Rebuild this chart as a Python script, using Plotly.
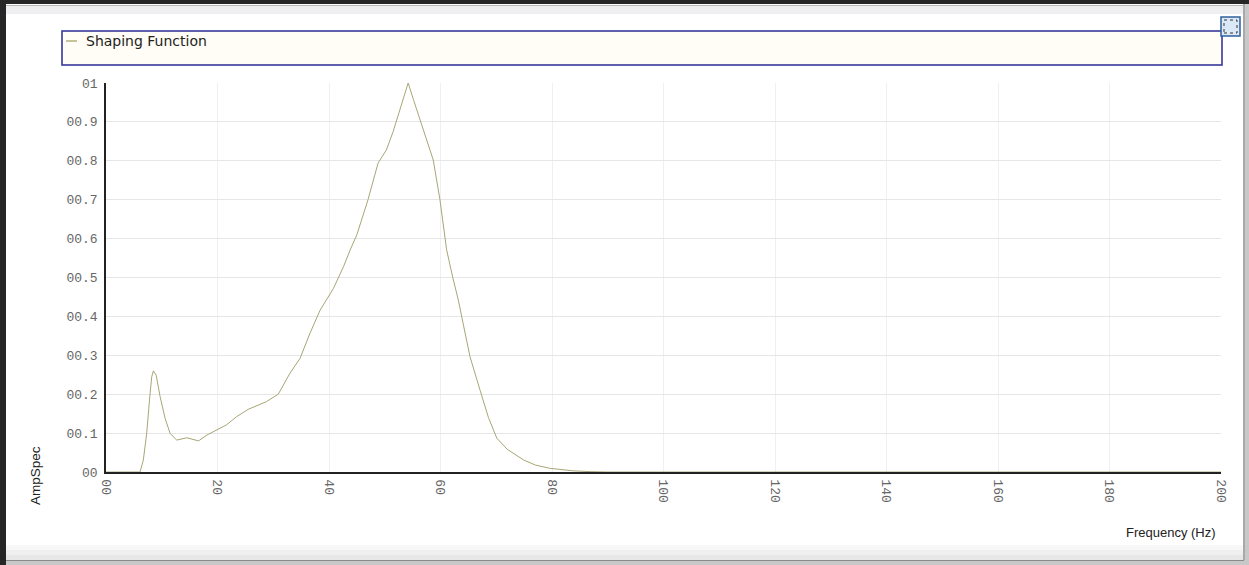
import plotly.graph_objects as go

# ---- data ----
freq_hz = [0, 5.0, 6.1, 6.7, 7.3, 7.8, 8.2, 8.5, 9.0, 9.7, 10.6, 11.5, 12.7, 14.5,
           16.6, 18.1, 19.9, 21.6, 23.4, 25.5, 28.8, 30.9, 33.0, 34.8, 36.6, 38.4,
           40.8, 42.6, 43.8, 45.0, 46.0, 47.0, 48.8, 50.3, 51.5, 52.7, 54.2, 55.2,
           56.3, 57.5, 58.7, 59.9, 61.1, 62.2, 63.2, 64.3, 65.3, 67.1, 68.6, 70.1,
           72.0, 74.9, 77.0, 79.6, 83.8, 86.8, 90.0, 120.0, 160.0, 200.0]
amp_spec = [0, 0, 0.0, 0.031, 0.099, 0.185, 0.245, 0.26, 0.249, 0.194, 0.138, 0.099,
            0.082, 0.088, 0.080, 0.095, 0.108, 0.121, 0.142, 0.161, 0.181, 0.20, 0.254,
            0.292, 0.357, 0.416, 0.472, 0.528, 0.571, 0.61, 0.655, 0.70, 0.794, 0.828,
            0.875, 0.93, 1.0, 0.955, 0.905, 0.855, 0.802, 0.70, 0.571, 0.50, 0.442,
            0.365, 0.296, 0.21, 0.14, 0.087, 0.058, 0.031, 0.018, 0.0095, 0.003,
            0.001, 0.0, 0.0, 0.0, 0.0]
series_name = "Shaping Function"
y_tick_vals = [0, 0.1, 0.2, 0.3, 0.4, 0.5, 0.6, 0.7, 0.8, 0.9, 1.0]
y_tick_text = ["00", "00.1", "00.2", "00.3", "00.4", "00.5", "00.6", "00.7", "00.8", "00.9", "01"]
x_tick_vals = [0, 20, 40, 60, 80, 100, 120, 140, 160, 180, 200]
x_tick_text = ["00", "20", "40", "60", "80", "100", "120", "140", "160", "180", "200"]

W, H = 1249, 565
L, R, T, B = 106, 1221, 83, 472  # plot area in pixels


def px(x):
    return (x - L) / (R - L)


def py(y):
    return (B - y) / (B - T)


line_color = "#a8a676"

fig = go.Figure()
fig.add_trace(go.Scatter(x=freq_hz, y=amp_spec, mode="lines", name=series_name,
                         line=dict(color=line_color, width=1), showlegend=False))

shapes = []
shapes.append(dict(type="rect", xref="paper", yref="paper", layer="below",
                   x0=px(0), x1=px(W), y0=py(H), y1=py(0),
                   fillcolor="#ffffff", line=dict(width=0)))
for i, c in enumerate(["#f7f7f7", "#efefef", "#e7e7e7"]):
    shapes.append(dict(type="rect", xref="paper", yref="paper", layer="below",
                       x0=px(6), x1=px(1243), y0=py(560), y1=py(545 + i * 5),
                       fillcolor=c, line=dict(width=0)))
shapes.append(dict(type="rect", xref="paper", yref="paper", layer="below",
                   x0=px(6), x1=px(1243), y0=py(14), y1=py(5),
                   fillcolor="#efeff2", line=dict(width=0)))
shapes.append(dict(type="rect", xref="paper", yref="paper",
                   x0=px(0), x1=px(W), y0=py(4), y1=py(0),
                   fillcolor="#262626", line=dict(width=0)))
shapes.append(dict(type="rect", xref="paper", yref="paper",
                   x0=px(0), x1=px(6), y0=py(H), y1=py(0),
                   fillcolor="#262626", line=dict(width=0)))
shapes.append(dict(type="line", xref="paper", yref="paper",
                   x0=px(6), x1=px(1244), y0=py(5.5), y1=py(5.5),
                   line=dict(color="#b8b8b8", width=1)))
shapes.append(dict(type="rect", xref="paper", yref="paper",
                   x0=px(1243), x1=px(W), y0=py(H), y1=py(4),
                   fillcolor="#c8c8c8", line=dict(width=0)))
shapes.append(dict(type="line", xref="paper", yref="paper",
                   x0=px(1244), x1=px(1244), y0=py(H), y1=py(4),
                   line=dict(color="#8a8a8a", width=1)))
shapes.append(dict(type="rect", xref="paper", yref="paper",
                   x0=px(6), x1=px(W), y0=py(H), y1=py(560),
                   fillcolor="#c8c8c8", line=dict(width=0)))
shapes.append(dict(type="line", xref="paper", yref="paper",
                   x0=px(6), x1=px(1244), y0=py(560.5), y1=py(560.5),
                   line=dict(color="#8a8a8a", width=1)))
# legend box
shapes.append(dict(type="rect", xref="paper", yref="paper",
                   x0=px(62), x1=px(1222), y0=py(65), y1=py(31),
                   fillcolor="#fffdf6", line=dict(color="#2b2b96", width=1.5)))
shapes.append(dict(type="line", xref="paper", yref="paper",
                   x0=px(66), x1=px(77), y0=py(41), y1=py(41),
                   line=dict(color="#8c8a3c", width=1)))
# small icon top right
shapes.append(dict(type="rect", xref="paper", yref="paper",
                   x0=px(1221), x1=px(1240), y0=py(36), y1=py(17),
                   fillcolor="#dbe8f6", line=dict(color="#2f5f9f", width=1.5)))
shapes.append(dict(type="rect", xref="paper", yref="paper",
                   x0=px(1224), x1=px(1237), y0=py(33), y1=py(20),
                   fillcolor="rgba(0,0,0,0)", line=dict(color="#333333", width=1, dash="dot")))

tick_font = dict(family="Liberation Mono", size=13, color="#666666")

fig.update_layout(
    width=W, height=H,
    margin=dict(l=L, r=W - R, t=T, b=H - B),
    paper_bgcolor="#ffffff",
    plot_bgcolor="#ffffff",
    shapes=shapes,
    xaxis=dict(range=[0, 200], tickvals=x_tick_vals, ticktext=x_tick_text,
               tickangle=90, showgrid=True, gridcolor="#f0f0f0", gridwidth=1,
               showline=True, linecolor="#222222", linewidth=1.5,
               ticks="", zeroline=False, ticklabelstandoff=3,
               tickfont=tick_font),
    yaxis=dict(range=[0, 1], tickvals=y_tick_vals, ticktext=y_tick_text,
               showgrid=True, gridcolor="#e6e6e6", gridwidth=1,
               showline=True, linecolor="#222222", linewidth=1.5,
               ticks="", zeroline=False, ticklabelstandoff=4,
               tickfont=tick_font),
    annotations=[
        dict(text=series_name, xref="paper", yref="paper", x=px(84), y=py(41),
             xanchor="left", yanchor="middle", showarrow=False,
             font=dict(family="DejaVu Sans", size=14, color="#222222")),
        dict(text="AmpSpec", xref="paper", yref="paper", x=px(35), y=py(476),
             xanchor="center", yanchor="middle", showarrow=False, textangle=-90,
             font=dict(family="Liberation Sans", size=13.5, color="#222222")),
        dict(text="Frequency (Hz)", xref="paper", yref="paper", x=px(1218), y=py(532),
             xanchor="right", yanchor="middle", showarrow=False,
             font=dict(family="Liberation Sans", size=13, color="#222222")),
    ],
)

fig.write_html("out.html")
